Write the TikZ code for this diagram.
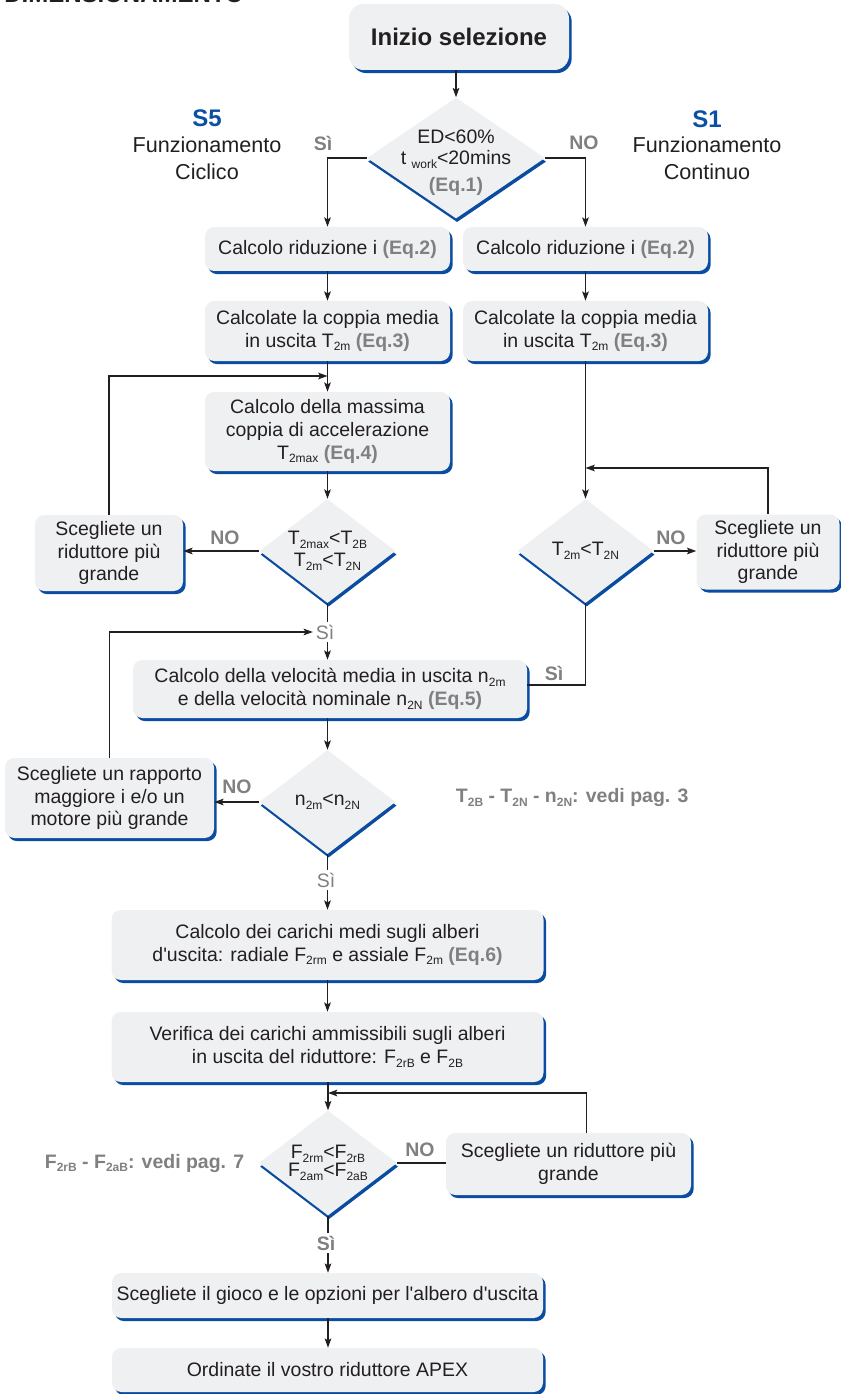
\documentclass[tikz,border=0pt]{standalone}
\usepackage{fontspec}
\setmainfont{Liberation Sans}
\usetikzlibrary{shapes.geometric,arrows.meta,shadows}
\definecolor{boxfill}{RGB}{239,240,242}
\definecolor{boxblue}{RGB}{10,76,160}
\definecolor{txt}{RGB}{35,31,32}
\definecolor{gr}{RGB}{128,128,130}
\definecolor{sblue}{RGB}{12,80,165}
\definecolor{lnc}{RGB}{35,31,32}
\newcommand\lo[1]{\raisebox{-0.35ex}{\fontsize{9pt}{9pt}\selectfont #1}}
\newcommand\eq[1]{{\bfseries\color{gr}(Eq.#1)}}
\newcommand\bxf{\fontsize{14.6pt}{17pt}\selectfont}
\newcommand\dmf{\fontsize{14.6pt}{15.5pt}\selectfont}
\begin{document}
\begin{tikzpicture}[x=0.75pt,y=-0.75pt,
 bx/.style={rectangle, rounded corners=7pt, fill=boxfill,
   general shadow={fill=boxblue, shadow xshift=2pt, shadow yshift=-2.3pt},
   inner sep=0pt, align=center, font=\bxf, text=txt},
 dm/.style={diamond, fill=boxfill, inner sep=0pt,
   general shadow={fill=boxblue, shadow xshift=0.8pt, shadow yshift=-2.7pt}},
 dt/.style={align=center, font=\dmf, text=txt, inner sep=0pt},
 wh/.style 2 args={minimum width=#1*0.75pt, minimum height=#2*0.75pt},
 ln/.style={draw=lnc, line width=1pt},
 arr/.style={ln, -{Stealth[length=7pt,width=5pt,inset=1.5pt]}},
 gl/.style={text=gr, font=\bxf\bfseries, inner sep=2pt},
 glr/.style={text=gr, font=\bxf, inner sep=2pt},
 lab/.style={align=center, text=txt, font=\fontsize{16.2pt}{20pt}\selectfont},
 shd/.style={text=sblue, font=\fontsize{18pt}{18pt}\selectfont\bfseries}
]
\useasboundingbox (0,0) rectangle (841,1394);
\clip (0,0) rectangle (841,1394);

\node[anchor=base west, inner sep=0pt, text=txt, font=\fontsize{18pt}{18pt}\selectfont\bfseries] (title) at (4,3) {DIMENSIONAMENTO};

% nodes
\node[bx, wh={220}{66}, rounded corners=11pt, font=\fontsize{18pt}{20pt}\selectfont\bfseries] (start) at (459,37) {Inizio selezione};
\node[dm, wh={178}{121}] (d1) at (456,158) {};
\node[dt] (d1t) at (456,163) {ED<60\%\\t \lo{work}<20mins\\[5pt]\eq{1}};

\node[shd] (s5) at (207,118) {S5};
\node[lab] (f5) at (207,158) {Funzionamento\\Ciclico};
\node[shd] (s1h) at (707,119) {S1};
\node[lab] (f1) at (707,158) {Funzionamento\\Continuo};

\node[bx, wh={245}{44}] (l1) at (327.5,249) {Calcolo riduzione i \eq{2}};
\node[bx, wh={245}{44}] (r1) at (585.5,249) {Calcolo riduzione i \eq{2}};
\node[bx, wh={245}{60}] (l2) at (327.5,331) {Calcolate la coppia media\\in uscita T\lo{2m} \eq{3}};
\node[bx, wh={245}{60}] (r2) at (585.5,331) {Calcolate la coppia media\\in uscita T\lo{2m} \eq{3}};
\node[bx, wh={245}{79}] (l3) at (327.5,431.5) {Calcolo della massima\\coppia di accelerazione\\T\lo{2max} \eq{4}};

\node[dm, wh={136}{104}] (d2) at (327.5,551) {};
\node[dt] (d2t) at (d2) {T\lo{2max}<T\lo{2B}\\[1pt]T\lo{2m}<T\lo{2N}};
\node[bx, wh={148}{76}] (ll) at (109,553) {Scegliete un\\riduttore più\\grande};
\node[dm, wh={136}{104}] (d3) at (585.5,551) {};
\node[dt] (d3t) at (d3) {T\lo{2m}<T\lo{2N}};
\node[bx, wh={143}{75}] (rr) at (768,552) {Scegliete un\\riduttore più\\grande};

\node[glr] (si2) at (325,632) {Sì};
\node[bx, wh={394}{58}] (v) at (330,689) {Calcolo della velocità media in uscita n\lo{2m}\\e della velocità nominale n\lo{2N} \eq{5}};

\node[dm, wh={136}{104}] (d4) at (327.5,802) {};
\node[dt] (d4t) at (d4) {n\lo{2m}<n\lo{2N}};
\node[bx, wh={209}{80}] (rm) at (109.5,798) {Scegliete un rapporto\\maggiore i e/o un\\motore più grande};
\node[gl, anchor=west] (n1) at (453,798) {T\lo{2B} - T\lo{2N} - n\lo{2N}: vedi pag. 3};

\node[glr] (si4) at (326,880) {Sì};
\node[bx, wh={432}{70}] (c) at (327.5,945) {Calcolo dei carichi medi sugli alberi\\d\textquotesingle uscita: radiale F\lo{2rm} e assiale F\lo{2m} \eq{6}};
\node[bx, wh={432}{70}] (vf) at (327.5,1047) {Verifica dei carichi ammissibili sugli alberi\\in uscita del riduttore: F\lo{2rB} e F\lo{2B}};

\node[dm, wh={138}{105}] (d5) at (328,1163) {};
\node[dt] (d5t) at (d5) {F\lo{2rm}<F\lo{2rB}\\[-2pt]F\lo{2am}<F\lo{2aB}};
\node[bx, wh={245}{62}] (b7) at (568.5,1164) {Scegliete un riduttore più\\grande};
\node[gl, anchor=west] (n2) at (42,1163) {F\lo{2rB} - F\lo{2aB}: vedi pag. 7};

\node[gl] (si5) at (326,1243) {Sì};
\node[bx, wh={431}{45}] (b8) at (327.5,1295.5) {Scegliete il gioco e le opzioni per l\textquotesingle albero d\textquotesingle uscita};
\node[bx, wh={431}{44}] (b9) at (327.5,1370) {Ordinate il vostro riduttore APEX};

% labels
\node[gl] (si1) at (323,143) {Sì};
\node[gl] (no1) at (584,143) {NO};
\node[gl] (no2) at (225,538) {NO};
\node[gl] (no3) at (671,538) {NO};
\node[gl] (si3) at (554,673) {Sì};
\node[gl] (no4) at (237,787) {NO};
\node[gl] (no5) at (420,1150) {NO};

% junction coordinates
\coordinate (j0) at (327.5,376);
\coordinate (j1) at (585.5,468);
\coordinate (j3) at (328,1093);

% connectors
\draw[arr] (start.south -| d1.north) -- (d1.north);
\draw[arr] (d1.west) -| (l1.north);
\draw[arr] (d1.east) -| (r1.north);
\draw[arr] (l1.south) -- (l2.north);
\draw[arr] (r1.south) -- (r2.north);
\draw[arr] (l2.south) -- (l3.north);
\draw[arr] (ll.north) |- (j0);
\draw[arr] (l3.south) -- (d2.north);
\draw[arr] (d2.west) -- (d2.west -| ll.east);
\draw[arr] (r2.south) -- (d3.north);
\draw[arr] (rr.north) |- (j1);
\draw[arr] (d3.east) -- (d3.east -| rr.west);
\draw[ln] (d2.south) -- (d2.south |- si2.north);
\draw[arr] (d2.south |- si2.south) -- (d2.south |- v.north);
\draw[arr] (rm.north) |- (si2.west);
\draw[ln] (d3.south) |- ([yshift=3pt]v.east);
\draw[arr] (v.south -| d4.north) -- (d4.north);
\draw[arr] (d4.west) -- (d4.west -| rm.east);
\draw[ln] (d4.south) -- (d4.south |- si4.north);
\draw[arr] (d4.south |- si4.south) -- (d4.south |- c.north);
\draw[arr] (c.south -| d4.south) -- (vf.north -| d4.south);
\draw[arr] (vf.south -| d5.north) -- (d5.north);
\draw[arr] ([xshift=13.5pt]b7.north) |- (j3);
\draw[ln] (d5.east) -- (d5.east -| b7.west);
\draw[ln] (d5.south) -- (d5.south |- si5.north);
\draw[arr] (d5.south |- si5.south) -- (d5.south |- b8.north);
\draw[arr] (b8.south -| d5.south) -- (b9.north -| d5.south);
\end{tikzpicture}
\end{document}
